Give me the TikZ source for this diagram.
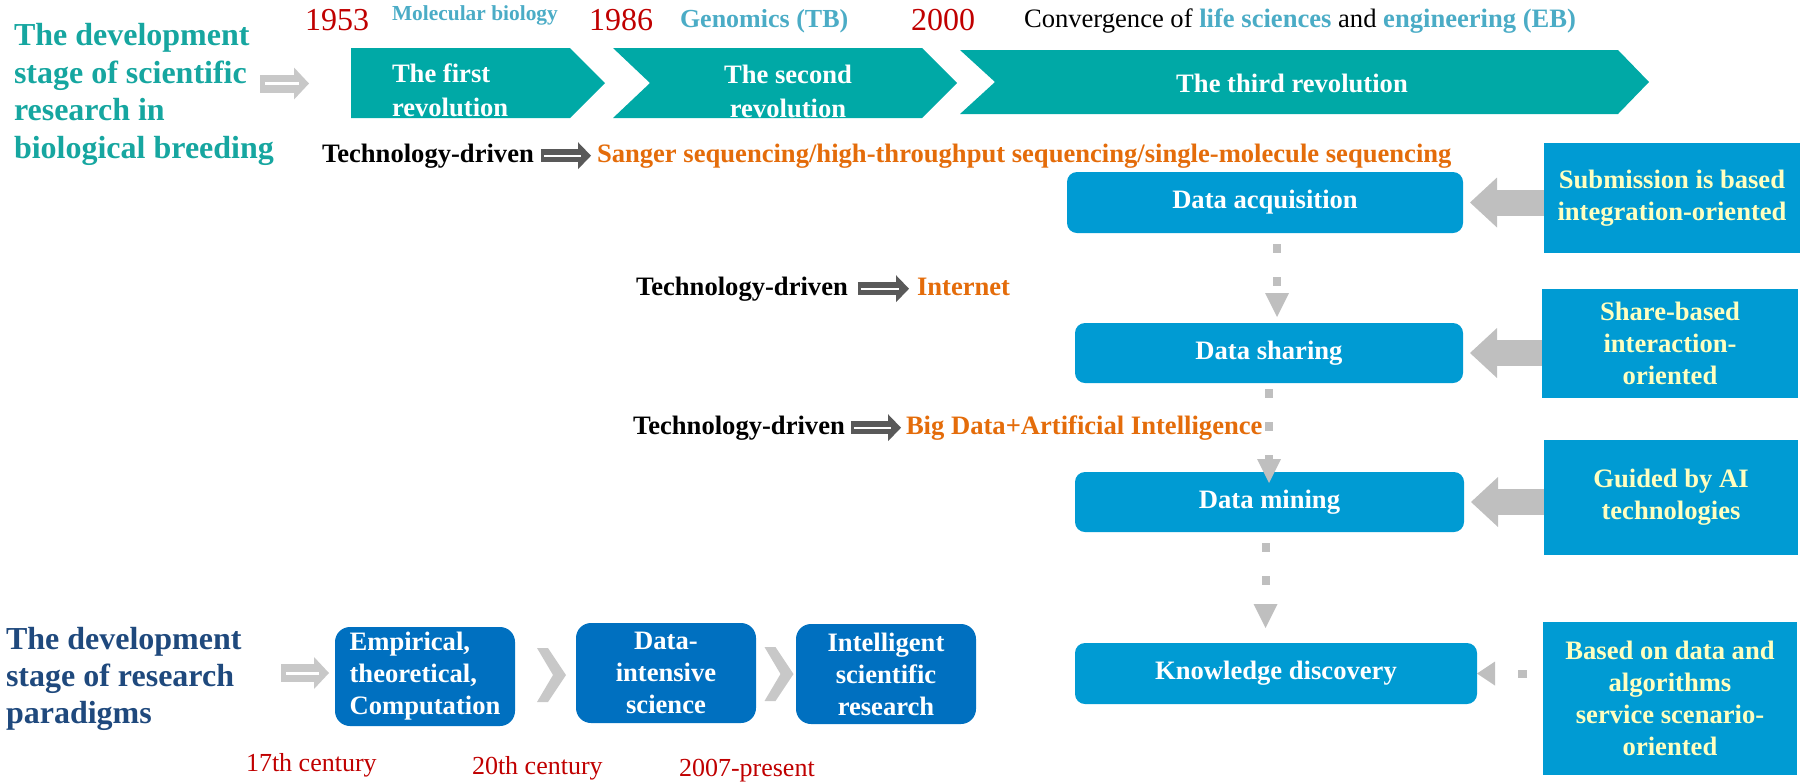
\documentclass[tikz,border=0pt]{standalone}
\usepackage{fontspec}
\setmainfont{Liberation Serif}
\usetikzlibrary{arrows.meta,calc}
\definecolor{teal1}{RGB}{0,169,166}
\definecolor{tealtxt}{RGB}{22,166,160}
\definecolor{lblue}{RGB}{75,172,198}
\definecolor{darkred}{RGB}{192,0,0}
\definecolor{orng}{RGB}{228,108,10}
\definecolor{boxblue}{RGB}{0,155,211}
\definecolor{dblue}{RGB}{0,112,192}
\definecolor{navy}{RGB}{31,73,125}
\definecolor{lgray}{RGB}{191,191,191}
\definecolor{agray}{RGB}{200,200,200}
\definecolor{dgray}{RGB}{89,89,89}
\definecolor{cream}{RGB}{255,255,192}
\begin{document}
\begin{tikzpicture}[x=0.5pt,y=-0.5pt,
  every node/.style={inner sep=0pt,outer sep=0pt},
  fs/.style={font=\fontsize{13.3}{16}\selectfont\bfseries},
  dbox/.style={fill=boxblue,rounded corners=5pt,text=white,fs},
  rbox/.style={fill=boxblue,text=cream,fs,align=center},
  pbox/.style={fill=dblue,rounded corners=7.5pt,text=white,fs},
  revtxt/.style={text=white,font=\fontsize{13.3}{17}\selectfont\bfseries},
  techtxt/.style={fs,anchor=base west},
  yeartxt/.style={text=darkred,font=\fontsize{16}{18}\selectfont,anchor=base west},
  centtxt/.style={text=darkred,font=\fontsize{13}{16}\selectfont,anchor=base west},
  titlearrow/.style={draw=agray,line width=9pt,-{Triangle[length=7.5pt,width=16pt,line width=0pt]},
    postaction={draw=white,line width=1.5pt,-,shorten <=2.5pt,shorten >=5pt}},
  techarrow/.style={draw=dgray,line width=6.5pt,-{Triangle[length=6.5pt,width=13.5pt,line width=0pt]},
    postaction={draw=white,line width=1.2pt,-,shorten <=1.5pt,shorten >=5pt}},
  bigarrow/.style={draw=lgray,line width=13pt,-{Triangle[length=13.5pt,width=25pt,line width=0pt]}},
  dconn/.style={draw=lgray,line width=4pt,dash pattern=on 4.5pt off 12pt,dash phase=11pt,
    -{Triangle[length=12pt,width=12pt,line width=0pt]}},
  chevgray/.style={fill=agray}
]
\useasboundingbox (0,0) rectangle (1806,783);

% ---------- top titles ----------
\node[anchor=west,align=left,text=tealtxt,font=\fontsize{16}{18.75}\selectfont\bfseries] (title1) at (14,94.5)
  {The development\\stage of scientific\\research in\\biological breeding};
\coordinate (ta1) at (260,83.5);
\coordinate (ta2) at (309,83.5);
\draw[titlearrow] (ta1) -- (ta2);

% chevrons
\fill[teal1] (351,48) -- (570,48) -- (605,83) -- (570,118) -- (351,118) -- cycle;
\fill[teal1] (613,48) -- (922,48) -- (957,83) -- (922,118) -- (613,118) -- (650,83) -- cycle;
\fill[teal1] (960,50) -- (1618,50) -- (1649,82) -- (1618,114) -- (960,114) -- (995,82) -- cycle;
\node[revtxt,anchor=west,align=left] (rev1) at (392,90) {The first\\revolution};
\node[revtxt,align=center] (rev2) at (788,91) {The second\\revolution};
\node[revtxt] (rev3) at (1292,83) {The third revolution};

% year labels
\node[yeartxt] (y1953) at (305,30) {1953};
\node[anchor=base west,text=lblue,font=\fontsize{10.7}{12}\selectfont\bfseries] (molbio) at (392,20) {Molecular biology};
\node[yeartxt] (y1986) at (589,30) {1986};
\node[anchor=base west,text=lblue,font=\fontsize{13}{16}\selectfont\bfseries] (genom) at (680,27) {Genomics (TB)};
\node[yeartxt] (y2000) at (911,30) {2000};
\node[anchor=base west,font=\fontsize{13.3}{16}\selectfont] (conv) at (1024,27)
  {Convergence of {\bfseries\color{lblue}life sciences} and {\bfseries\color{lblue}engineering (EB)}};

% ---------- technology rows ----------
\node[techtxt] (td1) at (322,162) {Technology-driven};
\node[techtxt,text=orng] (s1) at (597,162) {Sanger sequencing/high-throughput sequencing/single-molecule sequencing};
\draw[techarrow] ([xshift=3.5pt]td1.east) -- ([xshift=-3pt]td1.east -| s1.west);

\node[techtxt] (td2) at (636,295) {Technology-driven};
\node[techtxt,text=orng] (s2) at (917,295) {Internet};
\draw[techarrow] ([xshift=5pt]td2.east) -- ([xshift=-4pt]td2.east -| s2.west);

\node[techtxt] (td3) at (633,434) {Technology-driven};
\node[techtxt,text=orng] (s3) at (906,434) {Big Data+Artificial Intelligence};
\draw[techarrow] ([xshift=3pt]td3.east) -- ([xshift=-2.5pt]td3.east -| s3.west);

% ---------- data boxes ----------
\node[dbox,minimum width=198pt,minimum height=30.5pt] (acq) at (1265,202.5) {Data acquisition};
\node[dbox,minimum width=194pt,minimum height=30pt] (share) at (1269,353) {Data sharing};
\node[dbox,minimum width=194.5pt,minimum height=30pt] (mining) at (1269.5,502) {Data mining};
\node[dbox,minimum width=201pt,minimum height=30.5pt] (know) at (1276,673.5) {Knowledge discovery};

\node[rbox,minimum width=128pt,minimum height=55pt] (r1) at (1672,198) {Submission is based\\integration-oriented};
\node[rbox,minimum width=128pt,minimum height=54.5pt] (r2) at (1670,343.5) {Share-based\\interaction-\\oriented};
\node[rbox,minimum width=127pt,minimum height=57.5pt] (r3) at (1671,497.5) {Guided by AI\\technologies};
\node[rbox,minimum width=127pt,minimum height=76.5pt] (r4) at (1670,698.5) {Based on data and\\algorithms\\service scenario-\\oriented};

\draw[bigarrow,shorten >=3.5pt] (r1.west |- acq.east) -- (acq.east);
\draw[bigarrow,shorten >=3.5pt] (r2.west |- share.east) -- (share.east);
\draw[bigarrow,shorten >=3.5pt] (r3.west |- mining.east) -- (mining.east);
\draw[dconn,dash phase=8.5pt,-{Triangle[length=9pt,width=12pt,line width=0pt]}] (r4.west |- know.east) -- (know.east);

\draw[dconn,shorten >=3pt] ([xshift=6pt]acq.south) -- ([xshift=6pt]acq.south |- share.north);
\draw[dconn,shorten >=-5.5pt,dash phase=13.5pt] (share.south) -- (share.south |- mining.north);
\draw[dconn,shorten >=7.5pt] ([xshift=-2pt]mining.south) -- ([xshift=-2pt]mining.south |- know.north);

% ---------- research paradigms ----------
\node[anchor=west,align=left,text=navy,font=\fontsize{16}{18.5}\selectfont\bfseries] (title2) at (6,678.5)
  {The development\\stage of research\\paradigms};
\coordinate (tb1) at (281,673);
\coordinate (tb2) at (329,673);
\draw[titlearrow] (tb1) -- (tb2);

\node[pbox,minimum width=90pt,minimum height=49.5pt,align=left] (pa) at (425,676.5) {Empirical,\\theoretical,\\Computation};
\node[pbox,minimum width=90pt,minimum height=50pt,align=center] (pb) at (666,673) {Data-\\intensive\\science};
\node[pbox,minimum width=90pt,minimum height=50pt,align=center] (pc) at (886,674) {Intelligent\\scientific\\research};

\coordinate (c1) at (552,675);
\coordinate (c2) at (779.5,674);
\foreach \c in {c1,c2}{
  \fill[chevgray] ($(\c)+(-15,-27)$) -- ($(\c)+(-4,-27)$) -- ($(\c)+(14,0)$) -- ($(\c)+(-4,27)$) -- ($(\c)+(-15,27)$) -- ($(\c)+(1,0)$) -- cycle;
}

\node[centtxt] (t17) at (246,771) {17th century};
\node[centtxt] (t20) at (472,774) {20th century};
\node[centtxt] (t2007) at (679,776) {2007-present};
\end{tikzpicture}
\end{document}
